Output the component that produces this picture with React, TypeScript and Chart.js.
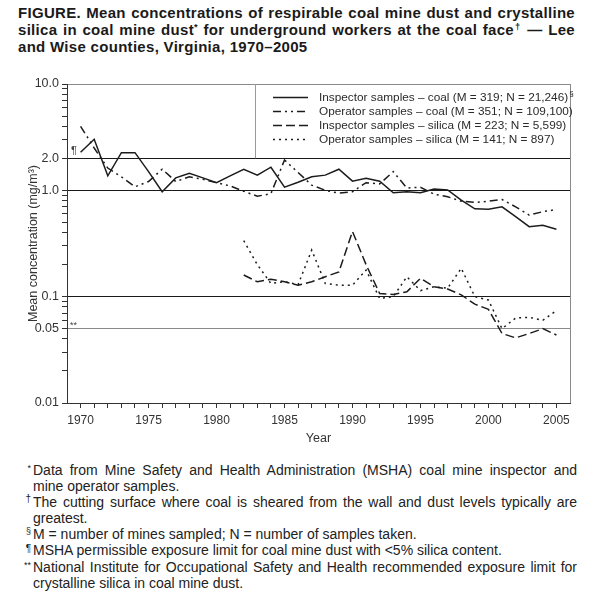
import React, { useEffect, useRef } from "react";
import { Chart, registerables } from "chart.js";

Chart.register(...registerables);

// ---------- data ----------
const coalYears = [
  1970, 1971, 1972, 1973, 1974, 1975, 1976, 1977, 1978, 1979, 1980, 1981,
  1982, 1983, 1984, 1985, 1986, 1987, 1988, 1989, 1990, 1991, 1992, 1993,
  1994, 1995, 1996, 1997, 1998, 1999, 2000, 2001, 2002, 2003, 2004, 2005,
];
const silicaYears = [
  1982, 1983, 1984, 1985, 1986, 1987, 1988, 1989, 1990, 1991, 1992, 1993,
  1994, 1995, 1996, 1997, 1998, 1999, 2000, 2001, 2002, 2003, 2004, 2005,
];
const inspectorCoal = [
  2.28, 3.02, 1.37, 2.26, 2.26, 1.5, 0.97, 1.31, 1.45, 1.31, 1.18, 1.37,
  1.58, 1.39, 1.65, 1.07, 1.19, 1.34, 1.39, 1.58, 1.22, 1.3, 1.22, 0.95,
  0.97, 0.95, 1.03, 1.01, 0.81, 0.67, 0.665, 0.7, 0.565, 0.455, 0.47, 0.43,
];
const operatorCoal = [
  4.0, 2.5, 1.62, 1.34, 1.08, 1.21, 1.58, 1.21, 1.34, 1.27, 1.18, 1.1,
  0.98, 0.88, 0.93, 1.93, 1.47, 1.12, 1.0, 0.94, 0.97, 1.18, 1.15, 1.5,
  1.05, 1.07, 0.92, 0.87, 0.79, 0.77, 0.79, 0.82, 0.7, 0.585, 0.63, 0.66,
];
const inspectorSilica = [
  0.16, 0.138, 0.146, 0.138, 0.128, 0.138, 0.154, 0.171, 0.41, 0.2, 0.107, 0.105,
  0.111, 0.149, 0.124, 0.118, 0.104, 0.085, 0.076, 0.045, 0.041, 0.045, 0.05, 0.0436,
];
const operatorSilica = [
  0.336, 0.2, 0.133, 0.138, 0.13, 0.274, 0.133, 0.128, 0.128, 0.178, 0.096, 0.1,
  0.154, 0.114, 0.124, 0.12, 0.185, 0.1, 0.093, 0.05, 0.063, 0.064, 0.06, 0.074,
];
const seriesLabels = [
  "Inspector samples \u2013 coal (M = 319; N = 21,246)",
  "Operator samples \u2013 coal (M = 351; N = 109,100)",
  "Inspector samples \u2013 silica (M = 223; N = 5,599)",
  "Operator samples \u2013 silica (M = 141; N = 897)",
];
const yTickValues = [
  0.01, 0.02, 0.03, 0.04, 0.05, 0.06, 0.07, 0.08, 0.09,
  0.1, 0.2, 0.3, 0.4, 0.5, 0.6, 0.7, 0.8, 0.9,
  1, 2, 3, 4, 5, 6, 7, 8, 9, 10,
];
const yLabelValues = [10, 2, 1, 0.1, 0.05, 0.01];
const yLabelTexts = ["10.0", "2.0", "1.0", "0.1", "0.05", "0.01"];
const xLabelYears = [1970, 1975, 1980, 1985, 1990, 1995, 2000, 2005];
const darkRefValues = [2, 1, 0.1];
const lightRefValues = [0.05, 10];

const FONT = "'Liberation Sans', Arial, Helvetica, sans-serif";
const LINE = "#1c1c1c";

const near = (a: number, b: number) => Math.abs(a - b) < b * 1e-6;

const framePlugin = {
  id: "frameAndNotes",
  beforeDatasetsDraw(chart: any) {
    const { ctx, chartArea } = chart;
    ctx.save();
    ctx.strokeStyle = "#8a8a8a";
    ctx.lineWidth = 1;
    ctx.beginPath();
    ctx.moveTo(chartArea.right + 0.5, chartArea.top);
    ctx.lineTo(chartArea.right + 0.5, chartArea.bottom);
    ctx.stroke();
    ctx.restore();
  },
  afterDraw(chart: any) {
    const { ctx, chartArea, scales } = chart;
    const y = scales.y;
    ctx.save();
    // annotation marks
    ctx.fillStyle = "#444";
    ctx.textAlign = "left";
    ctx.textBaseline = "alphabetic";
    ctx.font = `11px ${FONT}`;
    ctx.fillText("\u00b6", chartArea.left + 4, y.getPixelForValue(2) - 4);
    ctx.font = `9px ${FONT}`;
    ctx.fillText("**", chartArea.left + 3, y.getPixelForValue(0.05) - 1);

    // legend
    const boxLeft = chartArea.left + 188;
    ctx.strokeStyle = "#9a9a9a";
    ctx.lineWidth = 1;
    ctx.beginPath();
    ctx.moveTo(boxLeft + 0.5, chartArea.top);
    ctx.lineTo(boxLeft + 0.5, y.getPixelForValue(2));
    ctx.stroke();

    chart.data.datasets.forEach((ds: any, i: number) => {
      const yy = chartArea.top + 13.5 + i * 14;
      ctx.save();
      ctx.strokeStyle = ds.borderColor;
      ctx.lineWidth = ds.borderWidth;
      ctx.setLineDash(ds.borderDash || []);
      ctx.beginPath();
      ctx.moveTo(chartArea.left + 206, yy);
      ctx.lineTo(chartArea.left + 241, yy);
      ctx.stroke();
      ctx.restore();
      ctx.fillStyle = "#2a2a2a";
      ctx.font = `11.8px ${FONT}`;
      ctx.textBaseline = "middle";
      ctx.textAlign = "left";
      ctx.fillText(ds.label, chartArea.left + 252, yy);
      if (i === 0) {
        const w = ctx.measureText(ds.label).width;
        ctx.font = `8px ${FONT}`;
        ctx.fillText("\u00a7", chartArea.left + 253 + w, yy - 4);
      }
    });
    ctx.restore();
  },
};

function ChartCanvas() {
  const ref = useRef<HTMLCanvasElement | null>(null);
  useEffect(() => {
    if (!ref.current) return;
    const mk = (xs: number[], ys: number[]) => xs.map((x, i) => ({ x, y: ys[i] }));
    const chart = new Chart(ref.current, {
      type: "line",
      data: {
        datasets: [
          { label: seriesLabels[0], data: mk(coalYears, inspectorCoal), borderColor: LINE, borderWidth: 1.5, borderDash: [] },
          { label: seriesLabels[1], data: mk(coalYears, operatorCoal), borderColor: LINE, borderWidth: 1.5, borderDash: [8, 4, 2, 4, 2, 4] },
          { label: seriesLabels[2], data: mk(silicaYears, inspectorSilica), borderColor: LINE, borderWidth: 1.5, borderDash: [9, 4] },
          { label: seriesLabels[3], data: mk(silicaYears, operatorSilica), borderColor: LINE, borderWidth: 1.5, borderDash: [2, 4] },
        ] as any,
      },
      options: {
        animation: false,
        responsive: false,
        maintainAspectRatio: false,
        events: [],
        elements: { point: { radius: 0 }, line: { tension: 0, fill: false } },
        layout: { padding: { top: 14, right: 30, left: 0, bottom: 0 } },
        plugins: { legend: { display: false }, tooltip: { enabled: false } },
        scales: {
          x: {
            type: "linear",
            min: 1969,
            max: 2006,
            afterBuildTicks: (s: any) => {
              s.ticks = coalYears.map((v) => ({ value: v }));
            },
            afterFit: (s: any) => {
              s.height = 47;
            },
            ticks: {
              autoSkip: false,
              maxRotation: 0,
              padding: 5,
              color: "#333",
              font: { size: 12, family: FONT },
              callback: (v: any) => (xLabelYears.includes(Number(v)) ? String(v) : ""),
            },
            grid: { drawOnChartArea: false, drawTicks: true, tickLength: 5, tickColor: "#333" },
            border: { display: true, color: "#333", width: 1 },
            title: {
              display: true,
              text: "Year",
              color: "#333",
              font: { size: 12.5, family: FONT },
              padding: { top: 0, bottom: 3.5 },
            },
          },
          y: {
            type: "logarithmic",
            min: 0.01,
            max: 10,
            afterBuildTicks: (s: any) => {
              s.ticks = yTickValues.map((v) => ({ value: v }));
            },
            afterFit: (s: any) => {
              s.width = 67;
            },
            ticks: {
              autoSkip: false,
              padding: 3,
              color: "#333",
              font: { size: 12.5, family: FONT },
              callback: (v: any) => {
                const idx = yLabelValues.findIndex((l) => near(Number(v), l));
                return idx >= 0 ? yLabelTexts[idx] : "";
              },
            },
            grid: {
              drawOnChartArea: true,
              drawTicks: true,
              tickLength: 5,
              tickColor: "#333",
              lineWidth: 1,
              color: (c: any) => {
                const v = c.tick ? c.tick.value : NaN;
                if (darkRefValues.some((r) => near(v, r))) return "#1a1a1a";
                if (lightRefValues.some((r) => near(v, r))) return "#8a8a8a";
                return "rgba(0,0,0,0)";
              },
            },
            border: { display: true, color: "#333", width: 1 },
            title: {
              display: true,
              text: "Mean concentration (mg/m\u00b3)",
              color: "#333",
              font: { size: 12.5, family: FONT },
              padding: { top: 26, bottom: 0 },
            },
          },
        },
      } as any,
      plugins: [framePlugin as any],
    });
    return () => chart.destroy();
  }, []);
  return (
    <canvas
      ref={ref}
      width={600}
      height={380}
      style={{ position: "absolute", left: 0, top: 70, width: 600, height: 380 }}
    />
  );
}

const sup: React.CSSProperties = { fontSize: "0.62em", verticalAlign: "0.55em", lineHeight: 0 };

export default function App() {
  useEffect(() => {
    document.body.style.margin = "0";
  }, []);
  const noteLine: React.CSSProperties = { position: "relative", whiteSpace: "nowrap", height: 16.1, width: 544 };
  const just: React.CSSProperties = { ...noteLine, textAlign: "justify", textAlignLast: "justify" as any };
  const marker: React.CSSProperties = { position: "absolute", right: "100%", marginRight: 2, top: 0, letterSpacing: 0 };
  const titleJust: React.CSSProperties = { width: 557, whiteSpace: "nowrap", textAlign: "justify", textAlignLast: "justify" as any };
  return (
    <div style={{ position: "relative", width: 600, height: 600, background: "#fff", overflow: "hidden", fontFamily: FONT, color: "#222" }}>
      <div style={{ position: "absolute", left: 18, top: 4, fontWeight: "bold", fontSize: 15, letterSpacing: "0.3px", lineHeight: "17px", color: "#1a1a1a" }}>
        <div style={titleJust}>FIGURE. Mean concentrations of respirable coal mine dust and crystalline</div>
        <div style={titleJust}>
          silica in coal mine dust<span style={sup}>*</span> for underground workers at the coal face<span style={sup}>{"\u2020"}</span> {"\u2014"} Lee
        </div>
        <div style={{ whiteSpace: "nowrap" }}>and Wise counties, Virginia, 1970{"\u2013"}2005</div>
      </div>
      <ChartCanvas />
      <div style={{ position: "absolute", left: 33, top: 462, fontSize: 14, lineHeight: "16.1px", color: "#222" }}>
        <div style={just}><span style={{ ...marker, fontSize: 9, top: -2 }}>*</span>Data from Mine Safety and Health Administration (MSHA) coal mine inspector and</div>
        <div style={noteLine}>mine operator samples.</div>
        <div style={just}><span style={{ ...marker, fontSize: 10, top: -3 }}>{"\u2020"}</span>The cutting surface where coal is sheared from the wall and dust levels typically are</div>
        <div style={noteLine}>greatest.</div>
        <div style={noteLine}><span style={{ ...marker, fontSize: 9, top: -3 }}>{"\u00a7"}</span>M = number of mines sampled; N = number of samples taken.</div>
        <div style={noteLine}><span style={{ ...marker, fontSize: 10, top: -1 }}>{"\u00b6"}</span>MSHA permissible exposure limit for coal mine dust with &lt;5% silica content.</div>
        <div style={just}><span style={{ ...marker, fontSize: 9, top: -2 }}>**</span>National Institute for Occupational Safety and Health recommended exposure limit for</div>
        <div style={noteLine}>crystalline silica in coal mine dust.</div>
      </div>
    </div>
  );
}
